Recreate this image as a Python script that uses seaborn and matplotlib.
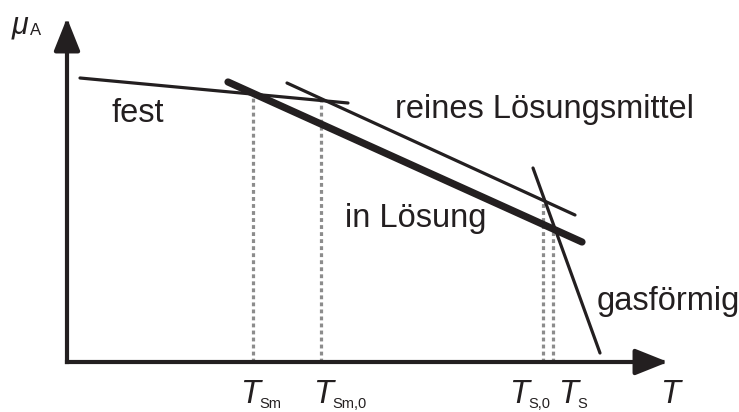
import numpy as np
import pandas as pd
import matplotlib
matplotlib.use('Agg')
import matplotlib.pyplot as plt
import seaborn as sns

# Schematic chemical potential curves (T, mu) in arbitrary units
T_fest = [13, 281]
mu_fest = [284, 259]
T_loesung = [161, 515]
mu_loesung = [280, 120]
T_rein = [220, 508]
mu_rein = [279, 147]
T_gas = [466, 533]
mu_gas = [194, 9]

# Transition temperatures (dotted markers)
T_marks = [186, 254, 476, 486]
mark_names = ['Sm', 'Sm,0', 'S,0', 'S']

sns.set_style('white')
plt.rcParams['font.family'] = ['Liberation Sans', 'DejaVu Sans']

ink = '#231f20'
grey = '#8c8c8c'

fig = plt.figure(figsize=(7.39, 4.12), dpi=100)
ax = fig.add_axes([0, 0, 1, 1])
ax.set_xlim(-67, 672)
ax.set_ylim(-50, 362)
ax.axis('off')

# Dotted guide lines from intersection down to the T axis
tops = [np.interp(T_marks[0], T_loesung, mu_loesung),
        np.interp(T_marks[1], T_fest, mu_fest),
        np.interp(T_marks[2], T_rein, mu_rein),
        np.interp(T_marks[3], T_loesung, mu_loesung)]
for t, top in zip(T_marks, tops):
    ax.plot([t, t], [0, top], color=grey, lw=2.3, linestyle=(0, (1.2, 1.0)),
            dash_capstyle='butt', zorder=1)

# Curves
sns.lineplot(x=T_fest, y=mu_fest, color=ink, lw=2.3, ax=ax,
             solid_capstyle='round', zorder=3)
sns.lineplot(x=T_rein, y=mu_rein, color=ink, lw=2.3, ax=ax,
             solid_capstyle='round', zorder=3)
sns.lineplot(x=T_gas, y=mu_gas, color=ink, lw=2.3, ax=ax,
             solid_capstyle='round', zorder=3)
sns.lineplot(x=T_loesung, y=mu_loesung, color=ink, lw=5.2, ax=ax,
             solid_capstyle='round', zorder=4)

# Axes arrows
arrow = dict(arrowstyle='-|>,head_length=1.0,head_width=0.4',
             mutation_scale=20, lw=3, color=ink, shrinkA=0, shrinkB=0,
             capstyle='projecting')
ax.annotate('', xy=(601, 0), xytext=(0, 0), arrowprops=arrow)
ax.annotate('', xy=(0, 344), xytext=(0, 0), arrowprops=arrow)

# Labels
fs = 23.5
ax.text(45, 240, 'fest', fontsize=fs, color=ink)
ax.text(328, 244, 'reines Lösungsmittel', fontsize=fs, color=ink)
ax.text(278, 135, 'in Lösung', fontsize=fs, color=ink)
ax.text(530, 52, 'gasförmig', fontsize=fs, color=ink)

ax.text(-55, 329, 'μ', fontsize=22, style='italic', color=ink)
ax.text(-37, 327, 'A', fontsize=12, color=ink)

T_x = [173, 246, 442, 491]
sub_x = [192, 265, 461, 510]
for tx, sx, name in zip(T_x, sub_x, mark_names):
    ax.text(tx, -41, 'T', fontsize=fs, style='italic', color=ink)
    ax.text(sx, -46, name, fontsize=10.5, color=ink)
ax.text(593, -41, 'T', fontsize=fs, style='italic', color=ink)

fig.savefig('out.png', dpi=100)
